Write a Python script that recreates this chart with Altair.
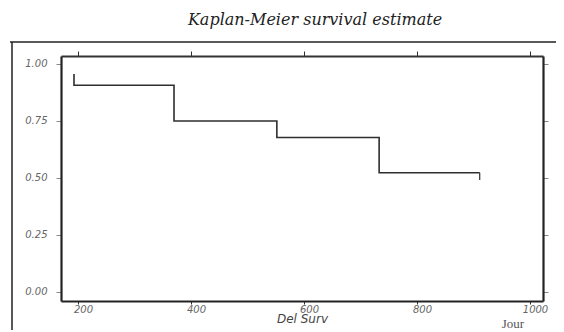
import altair as alt
import pandas as pd

# Kaplan-Meier step values
times = [193, 193, 370, 552, 733, 911]
surv = [0.955, 0.906, 0.749, 0.677, 0.522, 0.522]
censor_t = [911]
censor_s = [0.522]
x_ticks = [200, 400, 600, 800, 1000]
y_ticks = [0.0, 0.25, 0.5, 0.75, 1.0]

df = pd.DataFrame({"t": times, "s": surv})
cdf = pd.DataFrame({"t": censor_t, "s": censor_s})

xs = alt.Scale(domain=[170, 1023], nice=False, zero=False)
ys = alt.Scale(domain=[-0.04, 1.034], nice=False, zero=False)

label_font = "DejaVu Sans"
ink = "#2e2e2e"

line = alt.Chart(df).mark_line(interpolate="step-after", color=ink, strokeWidth=1.6).encode(
    x=alt.X("t:Q", scale=xs, axis=alt.Axis(
        values=x_ticks, format="d", title="Del Surv", titleFont=label_font, titleFontStyle="italic",
        titleFontWeight="normal", titleFontSize=12, titleColor="#444", titlePadding=-1,
        labelFont=label_font, labelFontStyle="italic", labelFontSize=10, labelColor="#666",
        tickSize=3, tickColor=ink, domain=True, domainColor="#222", domainWidth=2.2,
        grid=False, labelPadding=0, labelOffset=5, labelFlush=False)),
    y=alt.Y("s:Q", scale=ys, axis=alt.Axis(
        values=y_ticks, format=".2f", title=None,
        labelFont=label_font, labelFontStyle="italic", labelFontSize=10, labelColor="#666",
        tickSize=5, tickColor="#888", domain=True, domainColor="#222", domainWidth=2.2,
        grid=False, labelPadding=9)),
)

top_axis = alt.Chart(df).mark_line(opacity=0).encode(
    x=alt.X("t:Q", scale=xs, axis=alt.Axis(orient="top", values=x_ticks, labels=False, title=None,
                                           tickSize=5, tickColor=ink, domain=True, domainColor="#333",
                                           domainWidth=1.8, grid=False)),
    y=alt.Y("s:Q", scale=ys, axis=alt.Axis(orient="right", values=y_ticks, labels=False, title=None,
                                           tickSize=5, tickColor="#888", domain=True, domainColor="#222",
                                           domainWidth=2.2, grid=False)),
)

censor = alt.Chart(cdf).mark_rule(color=ink, strokeWidth=1.2).encode(
    x=alt.X("t:Q", scale=xs, axis=None),
    y=alt.Y("s:Q", scale=ys, axis=None),
    y2=alt.value(124),
)

jour = alt.Chart(pd.DataFrame({"txt": ["Jour"]})).mark_text(
    font="Liberation Serif", fontSize=13, color="#555", align="center", baseline="middle"
).encode(x=alt.value(452), y=alt.value(268), text="txt:N")

frame_top = alt.Chart(pd.DataFrame({"a": [0]})).mark_rule(color="#222", strokeWidth=1.5).encode(
    x=alt.value(-51), x2=alt.value(510), y=alt.value(-14))
frame_left = alt.Chart(pd.DataFrame({"a": [0]})).mark_rule(color="#222", strokeWidth=1.5).encode(
    x=alt.value(-49), y=alt.value(-14), y2=alt.value(290))

chart = alt.layer(top_axis, line, censor, jour, frame_top, frame_left).resolve_axis(
    x="independent", y="independent"
).properties(
    width=482, height=245,
    title=alt.TitleParams("Kaplan-Meier survival estimate", font="DejaVu Serif",
                          fontStyle="italic", fontWeight="normal", fontSize=16, color="#222",
                          anchor="middle", dx=13, offset=13),
    padding={"left": 53, "top": 48, "right": 13, "bottom": 29},
    autosize=alt.AutoSizeParams(type="none"),
).configure_view(stroke=None).configure(background="white")

chart.save("out.html", embed_options={"renderer": "svg", "actions": False})
